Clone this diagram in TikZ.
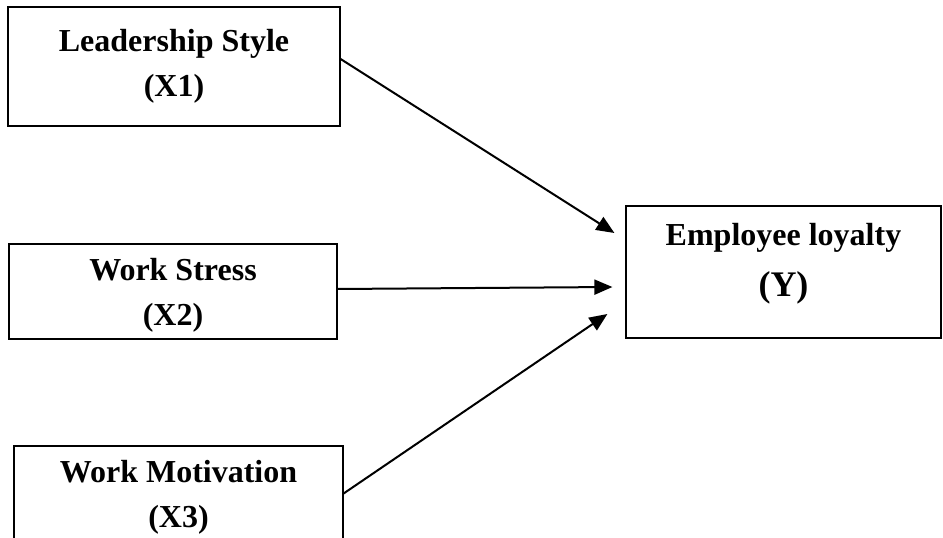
\documentclass[tikz,border=0pt]{standalone}
\usepackage{fontspec}
\setmainfont{Liberation Serif}
\usetikzlibrary{arrows.meta}
\begin{document}
\begin{tikzpicture}[
        caixa/.style={draw, line width=0.6pt, align=center, font=\fontsize{16}{22.5}\selectfont\bfseries},
        seta/.style={line width=1pt, -{Triangle[length=9pt,width=7.5pt]}}
    ]
        % Moldura da figura
        \useasboundingbox (0,0) rectangle (471.5pt,268.5pt);

        % Variaveis independentes
        \node[caixa, minimum width=166pt, minimum height=59.5pt] (lead) at (87pt,235.25pt) {Leadership Style\\(X1)};
        \node[caixa, minimum width=164pt, minimum height=47.5pt, text depth=-1.5pt] (stress) at (86.5pt,122.75pt) {Work Stress\\(X2)};
        \node[caixa, minimum width=164.5pt, minimum height=47.5pt, text depth=-1pt] (motiv) at (89.25pt,21.75pt) {Work Motivation\\(X3)};

        % Variavel dependente
        \node[caixa, minimum width=157.5pt, minimum height=66pt, text depth=12pt] (loyal) at (391.75pt,132.5pt) {Employee loyalty\\[3pt]{\fontsize{18}{20}\selectfont (Y)}};

        % Setas: origem / deslocamento x / deslocamento y
        \foreach \src/\dx/\dy/\sy in {lead/-5.5/19.5/3.75, stress/-6.5/-7.5/1.25, motiv/-9/-21/0} {
            \draw[seta] ([yshift=\sy pt]\src.east) -- ([xshift=\dx pt, yshift=\dy pt]loyal.west);
        }
    \end{tikzpicture}
\end{document}
